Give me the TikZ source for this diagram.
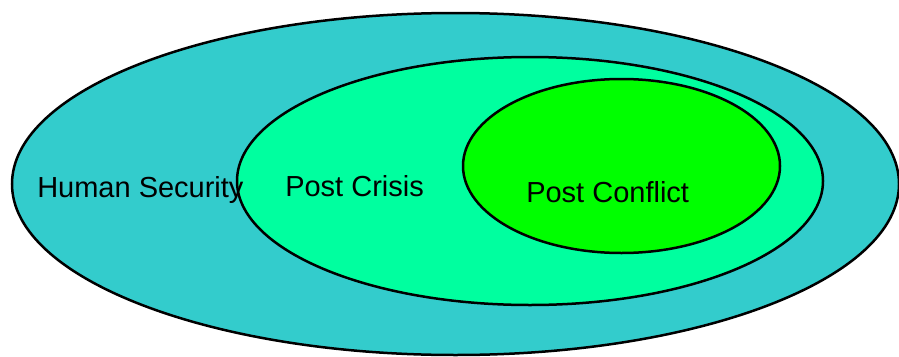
\documentclass[tikz,border=0pt]{standalone}
\usepackage{fontspec}
\setmainfont{Liberation Sans}
\definecolor{outercol}{HTML}{33CCCC}
\definecolor{crisiscol}{HTML}{00FF9F}
\definecolor{conflictcol}{HTML}{00FF00}
\begin{document}
\begin{tikzpicture}
[x=1pt,y=-1pt,line width=2.5pt,
 lbl/.style={anchor=base west,inner sep=0pt,font=\fontsize{29}{34}\selectfont}]
\useasboundingbox (0,0) rectangle (899,356);

\draw[fill=outercol] (455.5,184) ellipse [x radius=443.5,y radius=171];
\draw[fill=crisiscol] (530,181) ellipse [x radius=293,y radius=124];
\draw[fill=conflictcol] (621.5,166) ellipse [x radius=158.5,y radius=87];

\node[lbl] (hs) at (36,197) {Human Security};
\node[lbl] (pcr) at (284,196) {Post Crisis};
\node[lbl] (pco) at (525,202) {Post Conflict};
\end{tikzpicture}
\end{document}
